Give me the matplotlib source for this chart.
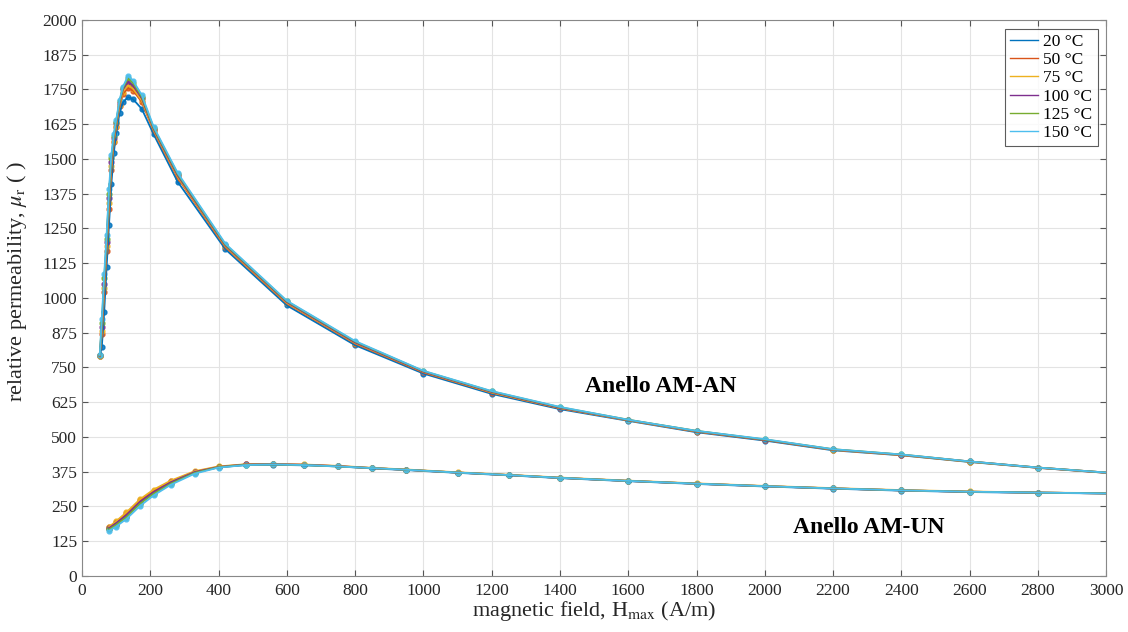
import matplotlib.pyplot as plt

plt.rcParams['font.family'] = ['Liberation Serif', 'DejaVu Serif']
plt.rcParams['mathtext.fontset'] = 'stix'

temps = ['20 °C', '50 °C', '75 °C', '100 °C', '125 °C', '150 °C']
colors = ['#0072BD', '#D95319', '#EDB120', '#7E2F8E', '#77AC30', '#4DBEEE']

# ring AM-AN (annealed)
h_an = [52, 58, 65, 72, 79, 86, 93, 100, 110, 120, 135, 150, 175, 210, 280, 420,
        600, 800, 1000, 1200, 1400, 1600, 1800, 2000, 2200, 2400, 2600, 2800, 3000]
mu_an = {
    '20 °C':  [790, 825, 950, 1110, 1262, 1410, 1520, 1592, 1665, 1704, 1722, 1714, 1680, 1588, 1418, 1175,
               973, 830, 728, 655, 600, 558, 517, 487, 452, 434, 410, 389, 371],
    '50 °C':  [792, 870, 1020, 1170, 1320, 1460, 1560, 1615, 1690, 1735, 1755, 1745, 1705, 1600, 1432, 1183,
               980, 836, 732, 659, 603, 560, 519, 489, 454, 435, 411, 389, 371],
    '75 °C':  [792, 880, 1035, 1185, 1340, 1475, 1565, 1620, 1695, 1742, 1765, 1752, 1710, 1603, 1436, 1186,
               982, 838, 734, 660, 604, 560, 520, 490, 454, 435, 411, 390, 372],
    '100 °C': [793, 895, 1050, 1200, 1360, 1490, 1575, 1628, 1702, 1750, 1778, 1763, 1718, 1607, 1441, 1189,
               985, 840, 735, 662, 605, 561, 521, 490, 455, 436, 412, 390, 372],
    '125 °C': [794, 910, 1070, 1212, 1375, 1502, 1582, 1634, 1707, 1755, 1790, 1772, 1724, 1611, 1446, 1192,
               988, 843, 737, 664, 607, 562, 522, 491, 456, 437, 412, 390, 372],
    '150 °C': [795, 925, 1085, 1225, 1390, 1515, 1590, 1640, 1712, 1760, 1799, 1780, 1730, 1615, 1450, 1195,
               990, 845, 738, 665, 608, 562, 522, 492, 456, 437, 412, 390, 372],
}

# ring AM-UN (not annealed)
h_un = [80, 100, 130, 170, 210, 260, 330, 400, 480, 560, 650, 750, 850, 950, 1100, 1250,
        1400, 1600, 1800, 2000, 2200, 2400, 2600, 2800, 3000]
mu_un = {
    '20 °C':  [170, 185, 213, 262, 298, 333, 372, 391, 399, 400, 398, 394, 387, 381, 371, 362,
               352, 341, 331, 322, 314, 307, 302, 299, 297],
    '50 °C':  [176, 194, 225, 272, 307, 340, 375, 393, 401, 402, 400, 395, 388, 382, 372, 363,
               353, 342, 332, 323, 315, 308, 303, 300, 297],
    '75 °C':  [178, 197, 229, 276, 311, 343, 377, 394, 402, 403, 401, 396, 389, 383, 373, 364,
               354, 343, 333, 324, 316, 309, 304, 300, 298],
    '100 °C': [173, 190, 219, 267, 302, 337, 374, 392, 401, 402, 400, 395, 388, 382, 372, 363,
               353, 342, 332, 323, 315, 308, 303, 300, 297],
    '125 °C': [168, 184, 212, 260, 296, 332, 371, 391, 400, 401, 399, 394, 388, 382, 372, 363,
               353, 342, 332, 323, 315, 308, 303, 300, 297],
    '150 °C': [163, 178, 205, 252, 290, 328, 368, 390, 399, 401, 399, 394, 388, 382, 372, 363,
               353, 342, 332, 323, 315, 308, 303, 300, 297],
}

fig = plt.figure(figsize=(11.28, 6.32), dpi=100)
ax = fig.add_axes([0.0727, 0.0886, 0.908, 0.880])

for t, c in zip(temps, colors):
    ax.plot(h_an, mu_an[t], color=c, lw=1.3, label=t, zorder=3)
    ax.plot(h_an[:-1], mu_an[t][:-1], 'o', color=c, ms=3.5, alpha=0.85, zorder=2)
    ax.plot(h_un, mu_un[t], color=c, lw=1.3, zorder=3)
    ax.plot(h_un[:-1], mu_un[t][:-1], 'o', color=c, ms=3.5, alpha=0.85, zorder=2)

ax.set_xlim(0, 3000)
ax.set_ylim(0, 2000)
ax.set_xticks(range(0, 3001, 200))
ax.set_yticks(range(0, 2001, 125))
ax.tick_params(direction='in', top=True, right=True, labelsize=12.5, length=4,
               color='#555555', labelcolor='#262626')
ax.tick_params(axis='x', pad=5)
ax.grid(True, color='#e3e3e3', lw=0.8)
ax.set_axisbelow(True)
for s in ax.spines.values():
    s.set_color('#888888')
    s.set_linewidth(0.8)

ax.set_xlabel(r'magnetic field, H$_{\rm max}$ (A/m)', fontsize=16, color='#262626', labelpad=0)
ax.set_ylabel(r'relative permeability, $\mu_{\rm r}$ ( )', fontsize=16, color='#262626')
ax.yaxis.set_label_coords(-0.052, 0.53)

ax.text(1474, 683, 'Anello AM-AN', fontsize=17, fontweight='bold', va='center', ha='left')
ax.text(2083, 176, 'Anello AM-UN', fontsize=17, fontweight='bold', va='center', ha='left')

leg = ax.legend(loc='upper right', fontsize=12.5, frameon=True, fancybox=False,
                edgecolor='#333333', handlelength=1.6, handletextpad=0.3,
                borderpad=0.3, labelspacing=0.12, borderaxespad=0.5)
leg.get_frame().set_linewidth(0.8)
for ln in leg.get_lines():
    ln.set_linewidth(1.0)

plt.savefig('out.png', dpi=100)
